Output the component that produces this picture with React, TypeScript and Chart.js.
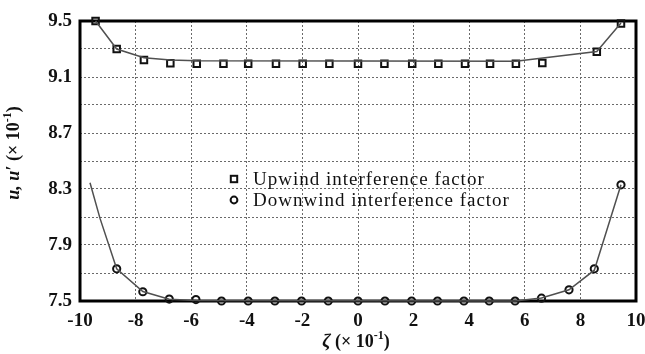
import { useEffect, useRef } from 'react';
import { Chart, registerables } from 'chart.js';

Chart.register(...registerables);

// Measured upwind interference factor (markers)
const upwindZeta = [-9.44, -8.68, -7.7, -6.75, -5.8, -4.84, -3.95, -2.95, -1.99, -1.03, 0, 0.95, 1.95, 2.89, 3.85, 4.75, 5.68, 6.63, 8.59, 9.46];
const upwindU = [9.5, 9.3, 9.222, 9.198, 9.195, 9.195, 9.195, 9.195, 9.195, 9.195, 9.195, 9.195, 9.195, 9.195, 9.195, 9.195, 9.195, 9.2, 9.28, 9.483];

// Measured downwind interference factor (markers)
const downwindZeta = [-8.68, -7.74, -6.79, -5.83, -4.91, -3.95, -2.99, -2.03, -1.07, 0, 0.97, 1.93, 2.86, 3.81, 4.72, 5.65, 6.6, 7.59, 8.5, 9.46];
const downwindU = [7.73, 7.566, 7.514, 7.51, 7.5, 7.5, 7.5, 7.5, 7.5, 7.5, 7.5, 7.5, 7.5, 7.5, 7.5, 7.5, 7.52, 7.58, 7.73, 8.33];

// Fitted curves
const upwindCurveZeta = [-9.44, -8.68, -7.7, -6.75, -5.8, 5.68, 8.59, 9.46];
const upwindCurveU = [9.5, 9.3, 9.238, 9.222, 9.216, 9.212, 9.282, 9.485];
const downwindCurveZeta = [-9.64, -9.28, -8.68, -7.74, -6.79, -5.83, 5.65, 6.6, 7.59, 8.5, 9.46];
const downwindCurveU = [8.345, 8.09, 7.73, 7.568, 7.512, 7.503, 7.5, 7.522, 7.58, 7.72, 8.33];

// Axis ranges and labelled y ticks
const xRange = [-10, 10];
const xStep = 2;
const yRange = [7.5, 9.5];
const yStep = 0.2;
const yLabelValues = [7.5, 7.9, 8.3, 8.7, 9.1, 9.5];

const legendLabels = ['Upwind interference factor', 'Downwind interference factor'];

const SERIF = '"Liberation Serif", "Times New Roman", serif';

const toPoints = (xs: number[], ys: number[]) => xs.map((x, i) => ({ x, y: ys[i] }));

type Part = { text: string; font: string; dy?: number };

function drawRich(ctx: CanvasRenderingContext2D, parts: Part[], cx: number, cy: number) {
  let total = 0;
  const widths = parts.map((p) => {
    ctx.font = p.font;
    const w = ctx.measureText(p.text).width;
    total += w;
    return w;
  });
  let x = cx - total / 2;
  ctx.textAlign = 'left';
  ctx.textBaseline = 'middle';
  parts.forEach((p, i) => {
    ctx.font = p.font;
    ctx.fillText(p.text, x, cy + (p.dy || 0));
    x += widths[i];
  });
}

const framePlugin = {
  id: 'frame',
  beforeDatasetsDraw(chart: any) {
    const { ctx, chartArea } = chart;
    const { left, right, top, bottom } = chartArea;
    ctx.save();
    ctx.strokeStyle = '#000';
    ctx.lineWidth = 3;
    ctx.strokeRect(left, top, right - left, bottom - top);
    ctx.restore();
  },
};

const annotationPlugin = {
  id: 'annotations',
  afterDraw(chart: any) {
    const { ctx, chartArea } = chart;
    ctx.save();
    ctx.fillStyle = '#111';
    ctx.strokeStyle = '#111';

    // legend inside the plot
    const lx = 234;
    const rows = [179, 200];
    ctx.lineWidth = 2;
    ctx.strokeRect(lx - 3.2, rows[0] - 3.2, 6.4, 6.4);
    ctx.beginPath();
    ctx.arc(lx, rows[1], 3.4, 0, Math.PI * 2);
    ctx.stroke();
    ctx.font = `19px ${SERIF}`;
    (ctx as any).letterSpacing = '1px';
    ctx.textAlign = 'left';
    ctx.textBaseline = 'middle';
    legendLabels.forEach((t, i) => ctx.fillText(t, 253, rows[i] + 1));
    (ctx as any).letterSpacing = '0px';

    // x-axis title
    const cx = (chartArea.left + chartArea.right) / 2 - 2;
    drawRich(ctx, [
      { text: 'ζ', font: `italic bold 19px ${SERIF}` },
      { text: ' (× 10', font: `bold 18px ${SERIF}` },
      { text: '-1', font: `bold 12px ${SERIF}`, dy: -6 },
      { text: ')', font: `bold 18px ${SERIF}` },
    ], cx, 342);

    // y-axis title
    ctx.translate(14, 153);
    ctx.rotate(-Math.PI / 2);
    drawRich(ctx, [
      { text: 'u, u′', font: `italic bold 18px ${SERIF}` },
      { text: ' (× 10', font: `bold 18px ${SERIF}` },
      { text: '-1', font: `bold 12px ${SERIF}`, dy: -6 },
      { text: ')', font: `bold 18px ${SERIF}` },
    ], 0, 0);
    ctx.restore();
  },
};

export default function App() {
  const canvasRef = useRef<HTMLCanvasElement | null>(null);

  useEffect(() => {
    const canvas = canvasRef.current;
    if (!canvas) return;

    const curveStyle = {
      showLine: true,
      pointRadius: 0,
      borderColor: '#505050',
      borderWidth: 1.5,
      tension: 0,
      clip: false as any,
    };
    const markerStyle = {
      showLine: false,
      borderColor: '#111',
      backgroundColor: 'rgba(0,0,0,0)',
      borderWidth: 2,
      clip: false as any,
    };

    const tickFont = { family: SERIF, size: 19, weight: 'bold' as const };

    const chart = new Chart(canvas, {
      type: 'scatter',
      data: {
        datasets: [
          { label: 'Upwind curve', data: toPoints(upwindCurveZeta, upwindCurveU), ...curveStyle },
          { label: 'Downwind curve', data: toPoints(downwindCurveZeta, downwindCurveU), ...curveStyle },
          { label: legendLabels[0], data: toPoints(upwindZeta, upwindU), pointStyle: 'rect', pointRadius: 4.6, ...markerStyle },
          { label: legendLabels[1], data: toPoints(downwindZeta, downwindU), pointStyle: 'circle', pointRadius: 3.6, ...markerStyle },
        ],
      },
      options: {
        responsive: false,
        animation: false,
        layout: { padding: { top: 21, right: 9, left: 0, bottom: 0 } },
        plugins: { legend: { display: false }, tooltip: { enabled: false } },
        scales: {
          x: {
            type: 'linear',
            min: xRange[0],
            max: xRange[1],
            ticks: { stepSize: xStep, color: '#111', font: tickFont, padding: 9 },
            grid: { color: '#6a6a6a', lineWidth: 1, drawTicks: false },
            border: { display: false, dash: [2, 2] },
            afterFit: (s: any) => {
              s.height = 53;
              s.paddingLeft = 0;
              s.paddingRight = 0;
            },
          },
          y: {
            type: 'linear',
            min: yRange[0],
            max: yRange[1],
            ticks: {
              stepSize: yStep,
              color: '#111',
              font: tickFont,
              padding: 8,
              callback: (v: any) => {
                const n = Number(v);
                const hit = yLabelValues.find((l) => Math.abs(l - n) < 1e-6);
                return hit !== undefined ? hit.toFixed(1) : '';
              },
            },
            grid: { color: '#6a6a6a', lineWidth: 1, drawTicks: false },
            border: { display: false, dash: [2, 2] },
            afterFit: (s: any) => {
              s.width = 80;
              s.paddingTop = 0;
              s.paddingBottom = 0;
            },
          },
        },
      },
      plugins: [framePlugin, annotationPlugin],
    });

    return () => chart.destroy();
  }, []);

  return (
    <div style={{ position: 'fixed', left: 0, top: 0, width: 645, height: 354, background: '#fff' }}>
      <canvas ref={canvasRef} width={645} height={354} style={{ display: 'block' }} />
    </div>
  );
}
